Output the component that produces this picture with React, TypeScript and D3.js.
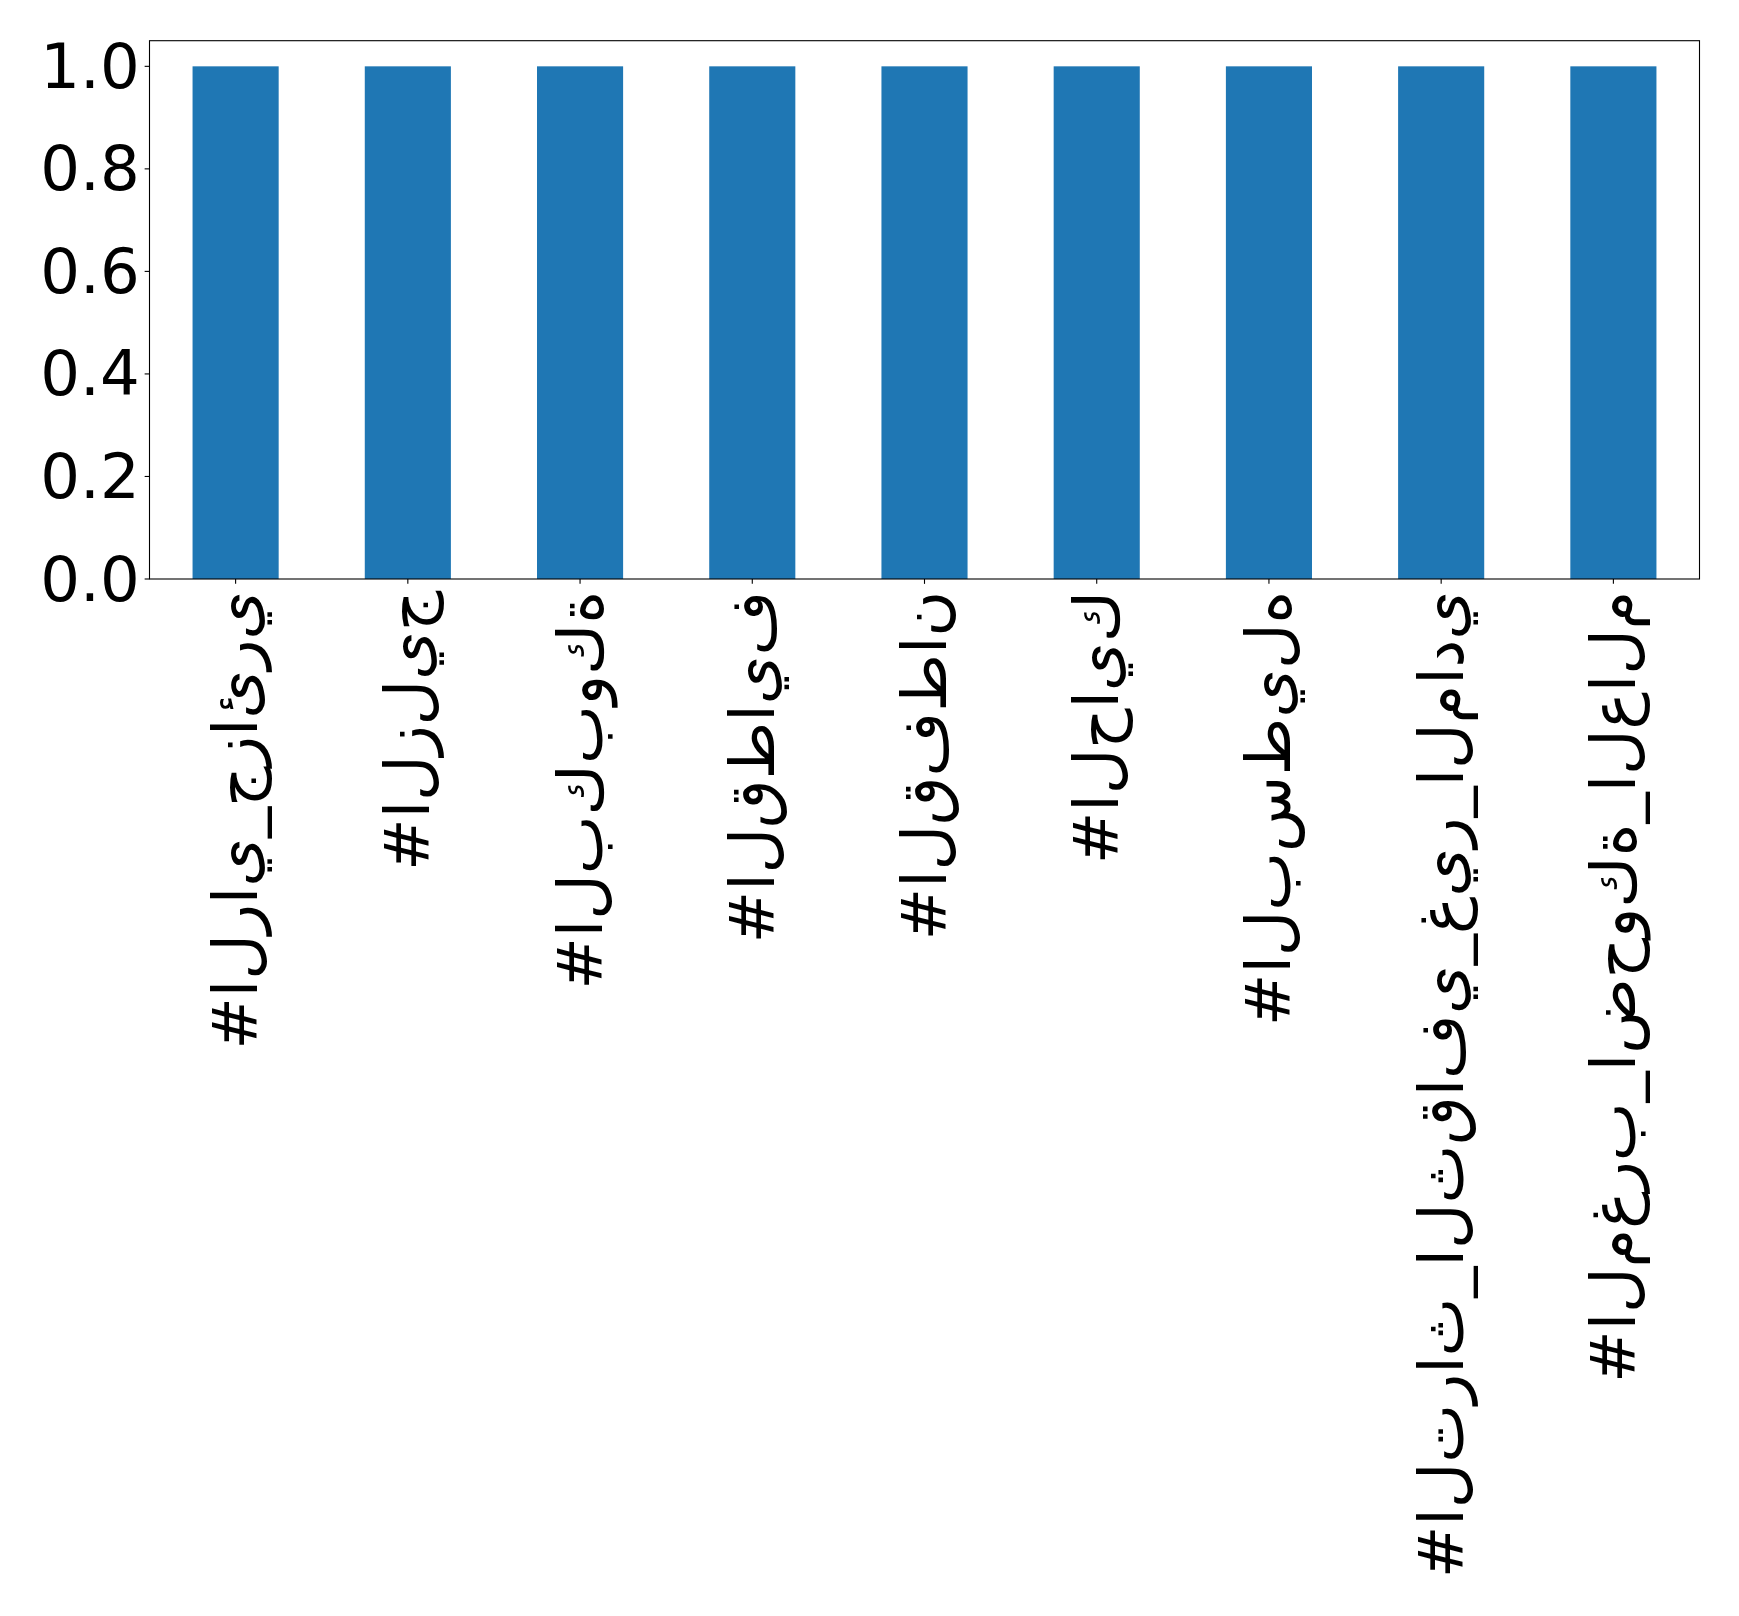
import React from "react";
import * as d3 from "d3";

const categories: string[] = [
  "#الراي_جزائري",
  "#الزليج",
  "#البكبوكة",
  "#القطايف",
  "#القفطان",
  "#الحايك",
  "#البسطيله",
  "#التراث_الثقافي_غير_المادي",
  "#المغرب_اضحوكة_العالم",
];
const values: number[] = [1, 1, 1, 1, 1, 1, 1, 1, 1];
const yTicks: number[] = [0, 0.2, 0.4, 0.6, 0.8, 1.0];

const W = 1739;
const H = 1616;
const left = 149.5;
const right = 1699.5;
const top = 40.7;
const bottom = 579;
const FS = 62.5;
const TICK = 4.86;
const PAD = 4.86;

// Render Arabic unshaped, left-to-right (as in the reference image)
const unshaped = (s: string) => "\u202D" + Array.from(s).join("\u200C") + "\u202C";

export default function App() {
  const x = d3
    .scaleLinear()
    .domain([-0.5, categories.length - 0.5])
    .range([left, right]);
  const y = d3.scaleLinear().domain([0, 1.05]).range([bottom, top]);
  const bw = x(0.25) - x(-0.25);

  return (
    <svg
      width={W}
      height={H}
      style={{ position: "absolute", left: 0, top: 0, background: "#fff" }}
      fontFamily="DejaVu Sans"
    >
      <rect x={0} y={0} width={W} height={H} fill="#fff" />
      {values.map((v, i) => (
        <rect
          key={i}
          x={x(i) - bw / 2}
          y={y(v)}
          width={bw}
          height={y(0) - y(v)}
          fill="#1f77b4"
        />
      ))}
      <rect
        x={left}
        y={top}
        width={right - left}
        height={bottom - top}
        fill="none"
        stroke="#000"
        strokeWidth={1.1}
      />
      {yTicks.map((t) => (
        <g key={t}>
          <line x1={left - TICK} x2={left} y1={y(t)} y2={y(t)} stroke="#000" strokeWidth={1.1} />
          <text
            x={left - TICK - PAD}
            y={y(t)}
            fontSize={FS}
            textAnchor="end"
            dominantBaseline="central"
            fill="#000"
          >
            {d3.format(".1f")(t)}
          </text>
        </g>
      ))}
      {categories.map((c, i) => (
        <g key={c}>
          <line x1={x(i)} x2={x(i)} y1={bottom} y2={bottom + TICK} stroke="#000" strokeWidth={1.1} />
          <text
            transform={`translate(${x(i)},${bottom + TICK + PAD + 2}) rotate(-90)`}
            fontSize={FS}
            textAnchor="end"
            dominantBaseline="central"
            fill="#000"
          >
            {unshaped(c)}
          </text>
        </g>
      ))}
    </svg>
  );
}
